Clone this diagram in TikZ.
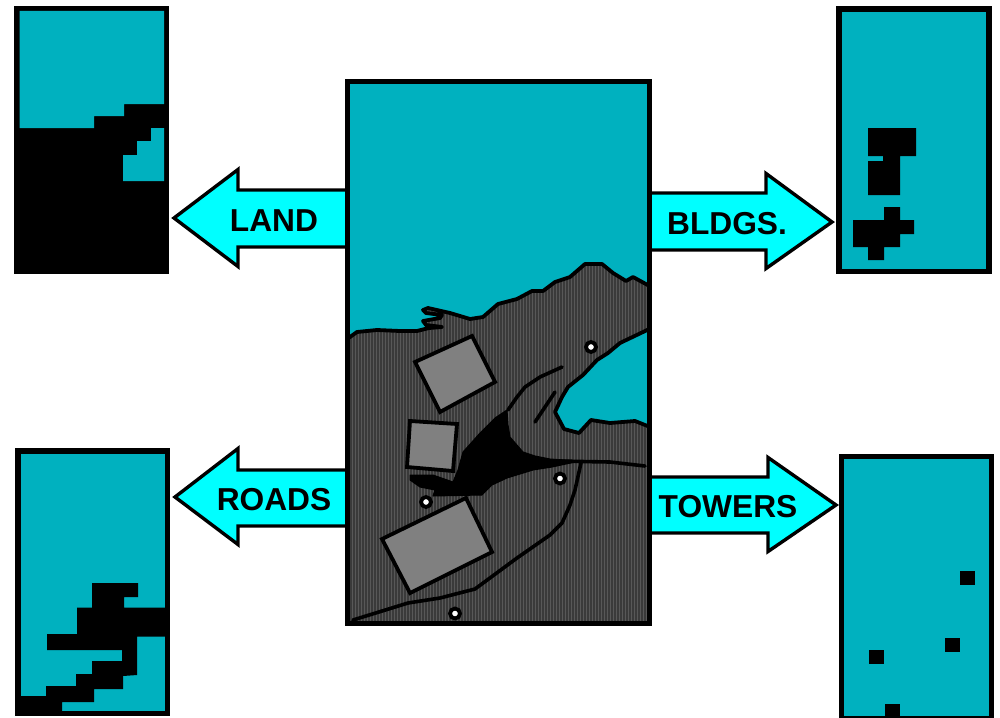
\documentclass[tikz,border=0pt]{standalone}
\usepackage{fontspec}
\setmainfont{Liberation Sans}
\definecolor{teal1}{HTML}{00B1BF}
\definecolor{cyan1}{HTML}{00FFFF}
\definecolor{land1}{HTML}{585858}
\definecolor{stripe}{HTML}{3A3A3A}
\definecolor{bld}{HTML}{808080}
\tikzset{
  panel/.style={draw=black,line width=5.5pt,fill=teal1,line join=miter},
  blk/.style={fill=black,draw=none},
  coast/.style={fill=teal1,draw=black,line width=3.8pt,line join=round,line cap=round},
  roadline/.style={draw=black,line width=3.6pt,line join=round,line cap=round},
  building/.style={fill=bld,draw=black,line width=3.8pt,line join=miter},
  arrowbox/.style={fill=cyan1,draw=black,line width=3.4pt,line join=miter},
  arrowtext/.style={font=\fontsize{31.7}{34}\selectfont\bfseries,inner sep=0pt,text=black},
  tower/.style={circle,fill=white,draw=black,line width=3.8pt,minimum size=10pt,inner sep=0pt}
}
\begin{document}
\begin{tikzpicture}[x=1pt,y=-1pt]
\useasboundingbox (0,0) rectangle (1000,717);
\fill[white] (0,0) rectangle (1000,717);
% arrows
\draw[arrowbox] (347,190)--(238,190)--(238,169.5)--(174,218)--(238,266.5)--(238,247)--(347,247)--cycle;
\draw[arrowbox] (649,193)--(766,193)--(766,173.5)--(832,222)--(766,268.5)--(766,250)--(649,250)--cycle;
\draw[arrowbox] (347,470)--(238,470)--(238,448.5)--(175,497)--(238,544.5)--(238,526)--(347,526)--cycle;
\draw[arrowbox] (649,477)--(768,477)--(768,457.5)--(836,505)--(768,551.5)--(768,533)--(649,533)--cycle;
\node[arrowtext] (landt) at (274,221) {LAND};
\node[arrowtext] (bldgt) at (727,224) {BLDGS.};
\node[arrowtext] (roadt) at (274,500) {ROADS};
\node[arrowtext] (towrt) at (728,507) {TOWERS};
% LAND panel
\fill[black] (14,6) rectangle (169,274);
\fill[teal1] (19.5,11)--(164,11)--(164,104)--(124,104)--(124,116)--(94,116)--(94,128)--(19.5,128)--cycle;
\fill[teal1] (151,128)--(164,128)--(164,181)--(123,181)--(123,155)--(137,155)--(137,141)--(151,141)--cycle;
% ROADS panel
\draw[panel] (18,451)rectangle(167.5,713.5);
\fill[blk] (92,583)--(138,583)--(138,597)--(124,597)--(124,607.7)--(165,607.7)--(165,636.7)--(137,636.7)--(137,675)--(123,676)--(123,689)--(94,689)--(94,702)--(62,702)--(62,711)--(20,711)--(20,696)--(46,696)--(46,686)--(76,686)--(76,674)--(92,674)--(92,661)--(122,661)--(122,650)--(47,650)--(47,634)--(77,634)--(77,607.7)--(92,607.7)--cycle;
% BLDGS panel
\draw[panel] (839,9)rectangle(989,271.5);
\fill[blk] (868,128)--(916,128)--(916,156)--(900,156)--(900,195)--(868,195)--(868,161)--(883,161)--(883,156)--(868,156)--cycle;
\fill[blk] (884,207)--(900,207)--(900,220)--(914,220)--(914,234)--(900,234)--(900,247)--(884,247)--(884,260)--(868,260)--(868,247)--(853,247)--(853,220)--(884,220)--cycle;
% TOWERS panel
\draw[panel] (841.3,456.5)rectangle(991.3,719);
\fill[blk] (960,571)rectangle(975,585);
\fill[blk] (945,638)rectangle(960,652);
\fill[blk] (869,650)rectangle(884,664);
\fill[blk] (885,704)rectangle(900,717);
% MAIN panel
\begin{scope}
\clip (347,81)rectangle(650,624);
\fill[land1] (347,81)rectangle(650,624);
\foreach \i in {0,...,101}{\draw[stripe,line width=1.2pt] ({348+3*\i},81)--({348+3*\i},624);}
\draw[coast] (340,80)--(340,343)--(350,337)--(357,332)--(377,330)--(400,331)--(417,331)--(429,328)--(442,327)--(426,325)--(423,321)--(440,318)--(442,315)--(426,313)--(423,310)--(428,308)--(450,313)--(470,319)--(483,317)--(498,304)--(517,299)--(532,291)--(543,291)--(555,282)--(570,277)--(585,264)--(602,264)--(613,273)--(626,281)--(633,277)--(655,289)--(655,80)--cycle;
\draw[coast] (655,327)--(647,330)--(643,332)--(620,343)--(608,353)--(597,360)--(583,375)--(568,387)--(562,397)--(555,412)--(564,429)--(579,433)--(591,420)--(610,423)--(635,421)--(655,429)--cycle;
\draw[roadline] (562,367)--(540,377)--(525,387)--(517,397)--(508,410);
\draw[roadline] (555,392)--(535,422);
\fill[black,line join=round,draw=black,line width=1pt] (410,475)--(433,475)--(453,482)--(458,470)--(463,452)--(480,433)--(495,418)--(507,410)--(508,425)--(510,437)--(523,452)--(535,456)--(550,459)--(580,461)--(552,467)--(533,470)--(507,478)--(492,485)--(482,495)--(433,496)--(435,490)--(420,487)--(410,480)--cycle;
\draw[roadline] (560,461)--(581,461.5)--(610,462)--(645,466);
\draw[roadline] (581,463)--(575,490)--(570,505)--(562,523)--(550,535)--(517,558)--(475,589)--(440,598)--(408,603)--(353,620);
\end{scope}
\draw[building] (415,362)--(472,336)--(495,382)--(440,412)--cycle;
\draw[building] (410,421)--(457,424)--(453,471)--(407,467)--cycle;
\draw[building] (382,539)--(466,498)--(492,552)--(410,593)--cycle;
\node[tower] (t1) at (591,347) {};
\node[tower] (t2) at (560,478.5) {};
\node[tower] (t3) at (426,502) {};
\node[tower] (t4) at (455,613.5) {};
\draw[black,line width=5.5pt,line join=miter] (347.5,81.5)rectangle(649.5,623.5);
\end{tikzpicture}
\end{document}
